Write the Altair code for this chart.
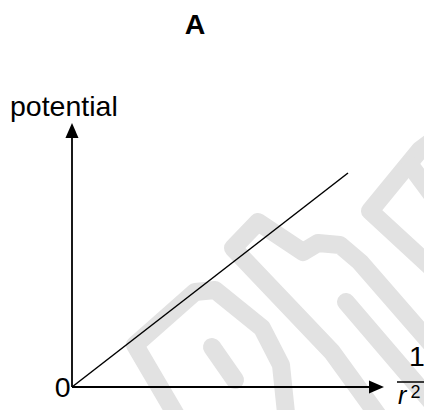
import altair as alt
import pandas as pd

# Diagram coordinates: origin at the axes' intersection, 1 unit = 1 pixel
X_DOMAIN = [-64, 352]
Y_DOMAIN = [-23, 379]

# straight-line relationship: potential vs 1/r^2
line_x = [0, 276]
line_y = [0, 214]

# axes (shafts) and arrowheads
yaxis_x = [0, 0]
yaxis_y = [0, 249]
xaxis_x = [0, 297]
xaxis_y = [0, 0]
arrow_up_xy = [0, 256.5]
arrow_right_xy = [304.5, 0]

# fraction bar of 1/r^2
frac_x = [325, 364]
frac_y = [5, 5]

# faint watermark strokes
wm_strokes = {
    "w1": [(114, -45), (63, 42), (123, 95), (143, 97), (190, 59), (209, 22), (216, -45)],
    "w2": [(140, 40), (163, 7)],
    "w3": [(318, -45), (260, 35), (161, 139), (186, 165), (231, 135), (246, 144),
           (268, 142), (288, 125), (375, 25)],
    "w4": [(274, 85), (375, -33)],
    "w5": [(375, 105), (298, 176), (348, 237), (375, 257)],
    "w6": [(338, 222), (375, 172)],
}

# labels
title_text = "A"
ylabel_text = "potential"
origin_text = "0"
num_text = "1"
den_text = "r"
sup_text = "2"

FONT = "Liberation Sans"

xs = alt.Scale(domain=X_DOMAIN, nice=False, zero=False)
ys = alt.Scale(domain=Y_DOMAIN, nice=False, zero=False)


def enc(chart):
    return chart.encode(
        x=alt.X("x:Q", scale=xs, axis=None),
        y=alt.Y("y:Q", scale=ys, axis=None),
    )


wm_rows = []
for seg, pts in wm_strokes.items():
    for i, (px, py) in enumerate(pts):
        wm_rows.append({"seg": seg, "i": i, "x": px, "y": py})
wm_df = pd.DataFrame(wm_rows)

watermark = enc(
    alt.Chart(wm_df).mark_line(
        color="#e2e2e2", strokeWidth=18, strokeCap="round", strokeJoin="round"
    )
).encode(detail="seg:N", order="i:Q")

axes_df = pd.DataFrame(
    {
        "seg": ["y", "y", "x", "x"],
        "i": [0, 1, 0, 1],
        "x": yaxis_x + xaxis_x,
        "y": yaxis_y + xaxis_y,
    }
)
axes = enc(
    alt.Chart(axes_df).mark_line(color="black", strokeWidth=1.8, strokeCap="butt")
).encode(detail="seg:N", order="i:Q")

data_line = enc(
    alt.Chart(pd.DataFrame({"x": line_x, "y": line_y})).mark_line(
        color="black", strokeWidth=1.5
    )
)

frac = enc(
    alt.Chart(pd.DataFrame({"x": frac_x, "y": frac_y})).mark_line(
        color="black", strokeWidth=1.3
    )
)

arrow_up = enc(
    alt.Chart(pd.DataFrame({"x": [arrow_up_xy[0]], "y": [arrow_up_xy[1]]})).mark_point(
        shape="M0,-1L0.87,1L-0.87,1Z", size=225, filled=True, color="black", opacity=1, strokeWidth=0
    )
)
arrow_right = enc(
    alt.Chart(pd.DataFrame({"x": [arrow_right_xy[0]], "y": [arrow_right_xy[1]]})).mark_point(
        shape="M1,0L-1,-0.87L-1,0.87Z", size=225, filled=True, color="black", opacity=1, strokeWidth=0
    )
)


def label(text, x, y, size, align="left", weight="normal", style="normal"):
    return enc(
        alt.Chart(pd.DataFrame({"x": [x], "y": [y], "t": [text]})).mark_text(
            font=FONT, fontSize=size, fontWeight=weight, fontStyle=style,
            align=align, baseline="alphabetic", color="black",
        )
    ).encode(text="t:N")


title = label(title_text, 123, 353.5, 28.5, align="center", weight="bold")
ylabel = label(ylabel_text, -62, 271, 28.5, align="left")
origin = label(origin_text, -1.5, -10, 28.5, align="right")
num = label(num_text, 345, 21, 28.5, align="center")
den = label(den_text, 326, -17, 25, align="left", style="italic")
sup = label(sup_text, 338.5, -11, 18, align="left")

chart = (
    alt.layer(watermark, axes, data_line, frac, arrow_up, arrow_right,
              title, ylabel, origin, num, den, sup)
    .properties(width=416, height=402, padding=0, autosize=alt.AutoSizeParams(type="none"))
    .configure_view(strokeWidth=0, stroke="white")
    .configure(background="white", style={"cell": {"stroke": "white", "strokeWidth": 0}})
)

chart.save("out.html", embed_options={"renderer": "svg", "actions": False})
